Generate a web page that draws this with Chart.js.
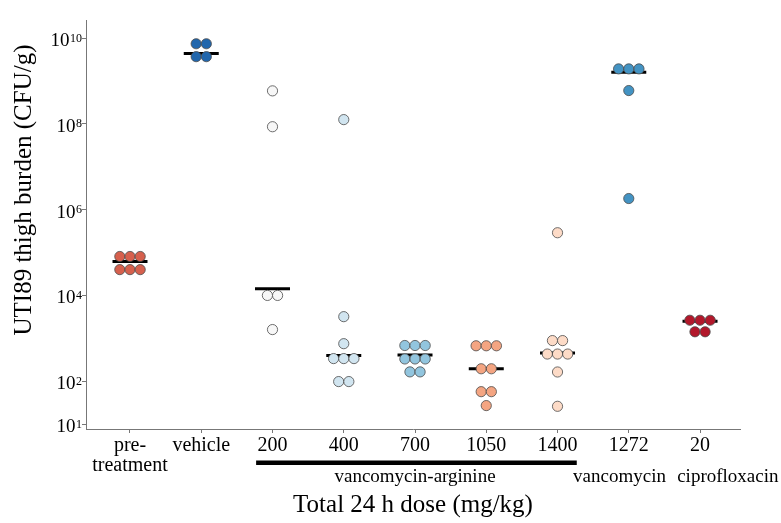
<!DOCTYPE html>
<html>
<head>
<meta charset="utf-8">
<script src="https://cdn.jsdelivr.net/npm/chart.js@4.4.1/dist/chart.umd.min.js"></script>
<style>
  html, body { margin: 0; padding: 0; background: #fff; }
</style>
</head>
<body>
<canvas id="burdenChart" width="781" height="523"></canvas>
<script>
// x categories, left to right
const categories = [['pre-', 'treatment'], 'vehicle', '200', '400', '700', '1050', '1400', '1272', '20'];

// thigh burden per mouse (CFU/g)
const pretreatment = [8.1e4, 8.1e4, 8.1e4, 4.0e4, 4.0e4, 4.0e4];
const vehicle = [7.4e9, 7.4e9, 3.7e9, 3.7e9];
const vancoArg200 = [5.9e8, 8.6e7, 1.0e4, 1.0e4, 1.6e3];
const vancoArg400 = [1.26e8, 3.2e3, 750, 337, 337, 337, 98, 98];
const vancoArg700 = [680, 680, 680, 330, 330, 330, 165, 165];
const vancoArg1050 = [670, 670, 670, 195, 195, 57, 57, 27];
const vancoArg1400 = [2.9e5, 885, 885, 430, 430, 430, 164, 26];
const vanco1272 = [1.92e9, 1.92e9, 1.92e9, 6.0e8, 1.82e6];
const cipro20 = [2.64e3, 2.64e3, 2.64e3, 1.42e3, 1.42e3];

// group median bars
const medians = [6.2e4, 4.4e9, 1.43e4, 400, 408, 195, 453, 1.6e9, 2.5e3];

// y axis ticks: value, base, exponent
const yTickValues = [1e1, 1e2, 1e4, 1e6, 1e8, 1e10];
const yTickBases = ['10', '10', '10', '10', '10', '10'];
const yTickExps = ['1', '2', '4', '6', '8', '10'];

const groups = [pretreatment, vehicle, vancoArg200, vancoArg400, vancoArg700,
                vancoArg1050, vancoArg1400, vanco1272, cipro20];
const groupColors = ['#d6604d', '#2166ac', '#f7f7f7', '#d1e5f0', '#92c5de',
                     '#f4a582', '#fddbc7', '#4393c3', '#b2182b'];

const SERIF = '"Liberation Serif", "Times New Roman", serif';
const SWARM_STEP = 0.143; // horizontal spacing of tied points, in category units

// spread tied values sideways like a swarm plot
function swarm(values, center) {
    return values.map((v, i) => {
        const n = values.filter(w => w === v).length;
        const k = values.slice(0, i).filter(w => w === v).length;
        return { x: center + (k - (n - 1) / 2) * SWARM_STEP, y: v };
    });
}

const datasets = groups.map((vals, i) => ({
    data: swarm(vals, i),
    backgroundColor: groupColors[i],
    borderColor: '#4a4a4a',
    borderWidth: 0.8,
    pointRadius: 5.1,
    pointHoverRadius: 5.1
}));

datasets.push({
    data: medians.map((m, i) => ({ x: i, y: m })),
    pointStyle: 'line',
    pointRadius: 17.5,
    pointHoverRadius: 17.5,
    borderColor: '#000',
    borderWidth: 3
});

// axis titles, superscript y labels and the treatment group labels
const decorations = {
    id: 'decorations',
    afterDraw(chart) {
        const ctx = chart.ctx;
        const xs = chart.scales.x;
        const ys = chart.scales.y;
        ctx.save();
        ctx.fillStyle = '#000';
        ctx.textBaseline = 'alphabetic';

        // y tick labels 10^n
        yTickValues.forEach((v, i) => {
            const py = ys.getPixelForValue(v);
            ctx.textAlign = 'right';
            ctx.font = '12px ' + SERIF;
            const ew = ctx.measureText(yTickExps[i]).width;
            ctx.fillText(yTickExps[i], 82, py + 3.5);
            ctx.font = '19px ' + SERIF;
            ctx.fillText(yTickBases[i], 82 - ew - 0.5, py + 8);
        });

        // y title
        ctx.save();
        ctx.translate(31, 190);
        ctx.rotate(-Math.PI / 2);
        ctx.textAlign = 'center';
        ctx.font = '25px ' + SERIF;
        ctx.fillText('UTI89 thigh burden (CFU/g)', 0, 0);
        ctx.restore();

        // x title
        ctx.textAlign = 'center';
        ctx.font = '25px ' + SERIF;
        ctx.fillText('Total 24 h dose (mg/kg)', (chart.chartArea.left + chart.chartArea.right) / 2, 512);

        // bracket under the vancomycin-arginine doses
        const x0 = xs.getPixelForValue(1.77);
        const x1 = xs.getPixelForValue(6.27);
        ctx.fillRect(x0, 460.5, x1 - x0, 4.5);

        ctx.font = '19px ' + SERIF;
        ctx.fillText('vancomycin-arginine', xs.getPixelForValue(4.0), 482);
        ctx.fillText('vancomycin', xs.getPixelForValue(6.87), 482);
        ctx.fillText('ciprofloxacin', xs.getPixelForValue(8.39), 482);
        ctx.restore();
    }
};

new Chart(document.getElementById('burdenChart'), {
    type: 'scatter',
    data: { datasets: datasets },
    options: {
        responsive: false,
        animation: false,
        layout: { padding: { top: 13, right: 41, left: 0, bottom: 0 } },
        plugins: {
            legend: { display: false },
            tooltip: { enabled: false }
        },
        scales: {
            x: {
                type: 'linear',
                min: -0.6175,
                max: 8.561,
                afterBuildTicks: s => { s.ticks = categories.map((c, i) => ({ value: i })); },
                afterFit: s => { s.height = 94; },
                ticks: {
                    callback: v => categories[v],
                    autoSkip: false,
                    maxRotation: 0,
                    padding: 3,
                    color: '#000',
                    font: { family: SERIF, size: 20, lineHeight: 1.0 }
                },
                grid: { drawOnChartArea: false, drawTicks: true, tickLength: 4, color: '#777' },
                border: { display: true, color: '#777', width: 1 }
            },
            y: {
                type: 'logarithmic',
                min: 7.68,
                max: 2.58e10,
                afterBuildTicks: s => { s.ticks = yTickValues.map(v => ({ value: v })); },
                afterFit: s => { s.width = 86; },
                ticks: { display: false },
                grid: { drawOnChartArea: false, drawTicks: true, tickLength: 4, color: '#777' },
                border: { display: true, color: '#777', width: 1 }
            }
        }
    },
    plugins: [decorations]
});
</script>
</body>
</html>
